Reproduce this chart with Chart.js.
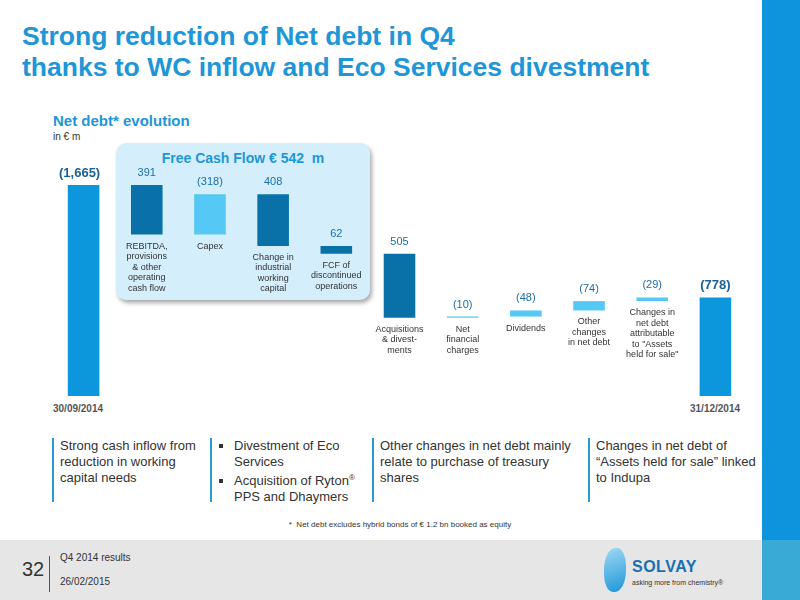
<!DOCTYPE html>
<html>
<head>
<meta charset="utf-8">
<script src="https://cdn.jsdelivr.net/npm/chart.js@4"></script>
<style>
  body { margin: 0; width: 800px; height: 600px; position: relative; overflow: hidden; background: #fff; font-family: "Liberation Sans", Arial, sans-serif; }
  .abs { position: absolute; }
  h1 { position: absolute; left: 22px; top: 21px; margin: 0; font-size: 26.5px; line-height: 31px; color: #1e96d8; font-weight: bold; white-space: nowrap; }
  .note { border-left: 2px solid #2a9ad6; padding-left: 6px; font-size: 13px; line-height: 16px; color: #333; top: 438px; height: 64px; white-space: nowrap; }
  ul { margin: 0; padding-left: 16px; list-style: square; }
</style>
</head>
<body>
<div class="abs" style="left:762px;top:0;width:38px;height:540px;background:#0d94dc"></div>
<div class="abs" style="left:762px;top:540px;width:38px;height:60px;background:#39a9d6"></div>
<div class="abs" style="left:0;top:540px;width:762px;height:60px;background:#e6e6e6"></div>
<h1>Strong reduction of Net debt in Q4<br>thanks to WC inflow and Eco Services divestment</h1>
<div class="abs" style="left:53px;top:112px;font-size:15px;font-weight:bold;color:#1e96d8">Net debt* evolution</div>
<div class="abs" style="left:53px;top:131px;font-size:10px;color:#333">in € m</div>
<div class="abs" style="left:116px;top:143px;width:254px;height:157px;border-radius:10px;background:#d4eefb;box-shadow:2px 3px 4px #aaa"></div>
<div class="abs" style="left:116px;top:150px;width:254px;text-align:center;font-size:14px;font-weight:bold;color:#1e96d8">Free Cash Flow € 542&nbsp; m</div>
<canvas id="c" class="abs" style="left:52px;top:146px;width:695px;height:250px"></canvas>
<div class="abs" style="left:53px;top:403px;font-size:10px;font-weight:bold;color:#555">30/09/2014</div>
<div class="abs" style="left:690px;top:403px;font-size:10px;font-weight:bold;color:#555">31/12/2014</div>
<div class="abs note" style="left:52px">Strong cash inflow from<br>reduction in working<br>capital needs</div>
<div class="abs note" style="left:210px"><ul><li>Divestment of Eco<br>Services</li><li>Acquisition of Ryton<sup style="font-size:8px">®</sup><br>PPS and Dhaymers</li></ul></div>
<div class="abs note" style="left:372px">Other changes in net debt mainly<br>relate to purchase of treasury<br>shares</div>
<div class="abs note" style="left:588px">Changes in net debt of<br>“Assets held for sale” linked<br>to Indupa</div>
<div class="abs" style="left:0;width:800px;top:520px;text-align:center;font-size:8px;color:#333">* &nbsp;Net debt excludes hybrid bonds of € 1.2 bn booked as equity</div>
<div class="abs" style="left:22px;top:556px;font-size:20px;color:#333;border-right:1px solid #555;padding-right:5px;height:36px;line-height:26px">32</div>
<div class="abs" style="left:60px;top:552px;font-size:10px;color:#333">Q4 2014 results</div>
<div class="abs" style="left:60px;top:576px;font-size:10px;color:#333">26/02/2015</div>
<div class="abs" style="left:604px;top:548px;width:22px;height:44px;border-radius:50% 40% 50% 40%;background:linear-gradient(160deg,#9fd9f3,#1e96d8)"></div>
<div class="abs" style="left:632px;top:558px;font-size:16px;font-weight:bold;color:#1a6fb0;letter-spacing:0.5px">SOLVAY</div>
<div class="abs" style="left:632px;top:579px;font-size:7px;color:#333">asking more from chemistry®</div>
<script>
const categories = [
  ["30/09/2014"],
  ["REBITDA,", "provisions", "& other", "operating", "cash flow"],
  ["Capex"],
  ["Change in", "industrial", "working", "capital"],
  ["FCF of", "discontinued", "operations"],
  ["Acquisitions", "& divest-", "ments"],
  ["Net", "financial", "charges"],
  ["Dividends"],
  ["Other", "changes", "in net debt"],
  ["Changes in", "net debt", "attributable", "to \"Assets", "held for sale\""],
  ["31/12/2014"]
];
const changes = [-1665, 391, -318, 408, 62, 505, -10, -48, -74, -29, -778];
const valueLabels = ["(1,665)", "391", "(318)", "408", "62", "505", "(10)", "(48)", "(74)", "(29)", "(778)"];
const colors = ["#0c96dc", "#0a70a8", "#55c8f5", "#0a70a8", "#0a70a8", "#0a70a8", "#55c8f5", "#55c8f5", "#55c8f5", "#55c8f5", "#0c96dc"];

// floating bars: running net debt level
const ranges = [];
let level = 0;
changes.forEach((v, i) => {
  if (i === 0 || i === changes.length - 1) { ranges.push([0, Math.abs(v)]); level = Math.abs(v); return; }
  const next = level - v;
  ranges.push([Math.min(level, next), Math.max(level, next)]);
  level = next;
});

const labelPlugin = {
  id: "labels",
  afterDatasetsDraw(chart) {
    const ctx = chart.ctx;
    const meta = chart.getDatasetMeta(0);
    const y = chart.scales.y;
    meta.data.forEach((bar, i) => {
      const top = y.getPixelForValue(ranges[i][1]);
      const bot = y.getPixelForValue(ranges[i][0]);
      const edge = i === 0 || i === 10;
      ctx.save();
      ctx.textAlign = "center";
      ctx.fillStyle = edge ? "#1a5f96" : "#1a6fa8";
      ctx.font = (edge ? "bold 13px" : "11px") + " 'Liberation Sans', Arial";
      ctx.fillText(valueLabels[i], bar.x + (i === 0 ? -4 : 0), top - (edge ? 8 : 9));
      if (!edge) {
        ctx.fillStyle = "#333";
        ctx.font = "9px 'Liberation Sans', Arial";
        categories[i].forEach((t, k) => ctx.fillText(t, bar.x, bot + 14 + k * 10.5));
      }
      ctx.restore();
    });
  }
};

new Chart(document.getElementById("c"), {
  type: "bar",
  data: {
    labels: categories.map(c => c.join(" ")),
    datasets: [{ data: ranges, backgroundColor: colors, barPercentage: 0.5, categoryPercentage: 1 }]
  },
  options: {
    responsive: false,
    animation: false,
    layout: { padding: 0 },
    plugins: { legend: { display: false }, tooltip: { enabled: false } },
    scales: {
      x: { display: false },
      y: { display: false, min: 0, max: 1973 }
    }
  },
  plugins: [labelPlugin]
});
</script>
</body>
</html>
